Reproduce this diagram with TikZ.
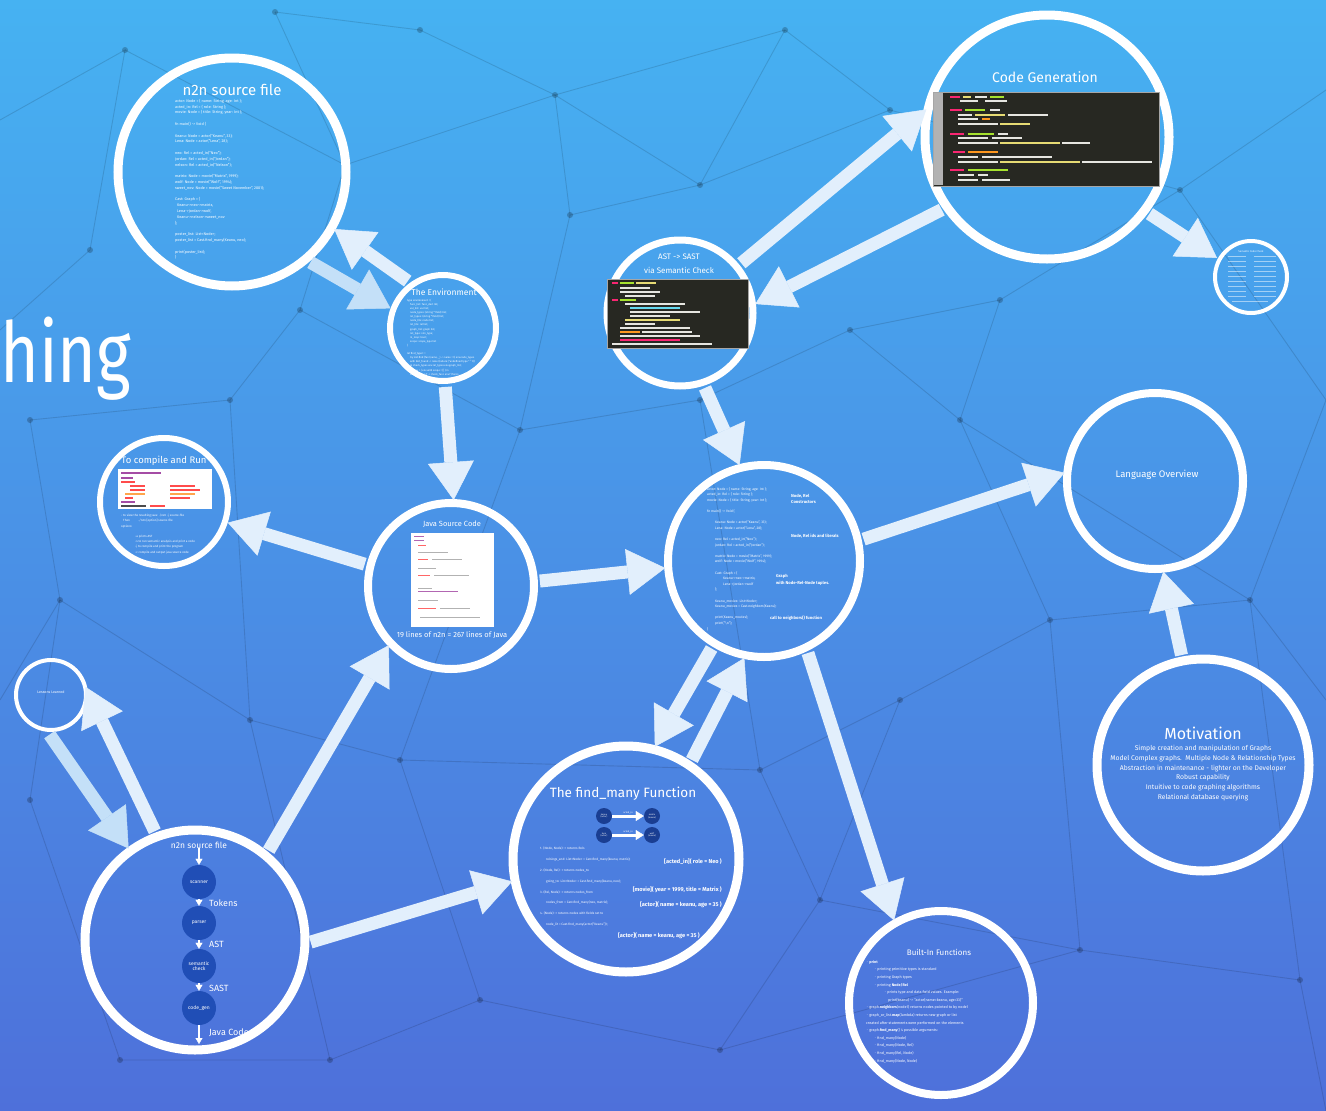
\documentclass[tikz,border=0pt]{standalone}
\usepackage{fontspec}
\setmainfont{Fira Sans}
\usetikzlibrary{arrows.meta}
\definecolor{bgtop}{RGB}{70,178,242}
\definecolor{bgmid}{RGB}{72,148,232}
\definecolor{bgbot}{RGB}{78,112,218}
\definecolor{navy}{RGB}{32,78,182}
\definecolor{arrowc}{RGB}{226,239,252}
\definecolor{arrowfaint}{RGB}{196,224,248}
\definecolor{codebg}{RGB}{39,40,34}
\definecolor{mpink}{RGB}{249,38,114}
\definecolor{mgreen}{RGB}{166,226,46}
\definecolor{morange}{RGB}{253,151,31}
\definecolor{myellow}{RGB}{230,219,116}
\definecolor{mblue}{RGB}{102,217,239}
\definecolor{mwhite}{RGB}{230,230,225}
\newcommand\myfs[2]{\fontsize{#1}{#2}\selectfont}
\begin{document}
\begin{tikzpicture}[x=1pt,y=-1pt,
  ring/.style={circle, draw=white, line width=#1, inner sep=0pt, outer sep=0pt},
  bigarrow/.style={line width=13pt, draw=arrowc, -{Triangle[length=38pt,width=46pt,line width=0.5pt]}, shorten <=6pt, shorten >=3pt},
  smallarrow/.style={line width=1.6pt, draw=white, -{Triangle[length=6pt,width=7pt,line width=0.3pt]}},
  title/.style={text=white, inner sep=0pt},
  code/.style={text=white, inner sep=0pt, align=left, anchor=north west},
  pnode/.style={circle, fill=navy, minimum size=34pt, inner sep=0pt, text=white, font=\myfs{5}{5.5}, align=center},
  fnode/.style={circle, fill=navy!80!black, minimum size=16pt, inner sep=0pt, text=white, font=\myfs{2.2}{2.6}, align=center},
  netline/.style={draw=black, draw opacity=0.13, line width=0.9pt}
]
\useasboundingbox (0,0) rectangle (1326,1111);
\clip (0,0) rectangle (1326,1111);
\shade[top color=bgtop, middle color=bgmid, bottom color=bgbot] (0,0) rectangle (1326,1111);

% background network
\draw[netline] (0,120)--(125,50)--(90,250)--(0,330);
\draw[netline] (125,50)--(345,165)--(555,95)--(700,185)--(890,110)--(1180,190)--(1326,90);
\draw[netline] (275,12)--(345,165)--(300,310)--(230,400)--(30,420);
\draw[netline] (555,95)--(570,215)--(700,185);
\draw[netline] (570,215)--(520,430)--(700,400)--(850,330)--(1000,300)--(1180,190);
\draw[netline] (300,310)--(520,430)--(400,760)--(250,720)--(60,600)--(30,420);
\draw[netline] (700,400)--(760,770)--(400,760);
\draw[netline] (850,330)--(960,420)--(1050,620)--(900,700)--(760,770);
\draw[netline] (1000,300)--(960,420)--(1250,600)--(1326,400);
\draw[netline] (1050,620)--(1250,600)--(1326,700);
\draw[netline] (900,700)--(820,900)--(720,1050)--(480,1000)--(330,1060)--(120,1060)--(30,800)--(60,600);
\draw[netline] (480,1000)--(400,760);
\draw[netline] (820,900)--(1080,950)--(1300,980)--(1326,1111);
\draw[netline] (1080,950)--(1050,620);
\draw[netline] (250,720)--(330,1060);
\draw[netline] (1180,190)--(1326,400);
\draw[netline] (785,30)--(700,185);
\draw[netline] (555,95)--(785,30)--(890,110);
\draw[netline] (0,700)--(60,600);
\draw[netline] (230,400)--(250,720);
\draw[netline] (720,1050)--(1080,950);
\draw[netline] (760,770)--(820,900);
\draw[netline] (1300,980)--(1250,600);
\draw[netline] (275,12)--(420,30)--(555,95);
\foreach \p in {(125,50),(345,165),(555,95),(700,185),(890,110),(1180,190),(275,12),(300,310),(230,400),(30,420),(570,215),(520,430),(700,400),(850,330),(1000,300),(400,760),(250,720),(60,600),(760,770),(960,420),(1050,620),(900,700),(1250,600),(820,900),(720,1050),(480,1000),(330,1060),(120,1060),(30,800),(1080,950),(1300,980),(90,250),(785,30),(420,30)}
  \fill[black, opacity=0.22] \p circle (3pt);

% big partial title
\node[title, anchor=base west, font=\myfs{84}{84}, xscale=0.79, transform shape] (bigtitle) at (0,382) {hing};

% circles
\node[ring=9pt, minimum size=228pt] (top) at (232,172) {};
\node[ring=6pt, minimum size=106pt] (env) at (443,328) {};
\node[ring=9pt, minimum size=244pt] (codegen) at (1047,137) {};
\node[ring=4pt, minimum size=72pt] (sem) at (1251,277) {};
\node[ring=7pt, minimum size=146pt] (ast) at (680,313) {};
\node[ring=6pt, minimum size=128pt] (compile) at (164,502) {};
\node[ring=8pt, minimum size=166pt] (java) at (451,586) {};
\node[ring=8pt, minimum size=192pt] (core) at (764,561) {};
\node[ring=8pt, minimum size=176pt] (lang) at (1155,481) {};
\node[ring=9pt, minimum size=212pt] (motiv) at (1203,765) {};
\node[ring=4pt, minimum size=70pt] (lessons) at (51,695) {};
\node[ring=9pt, minimum size=220pt] (pipe) at (195,940) {};
\node[ring=9pt, minimum size=226pt] (find) at (626,859) {};
\node[ring=8pt, minimum size=184pt] (builtin) at (941,1003) {};

% connectors
\draw[bigarrow] (env.125) -- (top.-29);
\draw[bigarrow, draw=arrowfaint] (top.-50) -- (env.160);
\draw[bigarrow] (env.-88) -- (java.88);
\draw[bigarrow] (java.166) -- (compile.-18);
\draw[bigarrow] (pipe.50) -- (java.-137);
\draw[bigarrow] (pipe.-2) -- (find.-169);
\draw[bigarrow] (java.3) -- (core.-176);
\draw[bigarrow] (ast.-72) -- (core.104);
\draw[bigarrow] (ast.39) -- (codegen.166);
\draw[bigarrow] (codegen.215) -- (ast.6);
\draw[bigarrow] (codegen.-37) -- (sem.151);
\draw[bigarrow] (core.12) -- (lang.174);
\draw[bigarrow] (motiv.101) -- (lang.-85);
\draw[bigarrow] (core.-64) -- (builtin.120);
\draw[bigarrow] (core.-121) -- (find.76);
\draw[bigarrow] (find.56) -- (core.-101);
\draw[bigarrow, draw=arrowfaint] (lessons.-98) -- (pipe.126);
\draw[bigarrow] (pipe.110) -- (lessons.18);

% ---- n2n source file (top)
\node[title, font=\myfs{15}{15}] (toptitle) at (232,90) {n2n source file};
\node[code, font=\myfs{3.8}{5.8}] (topcode) at (175,99) {
actor: Node = \{ name: String, age: Int \};\\
acted\_in: Rel = \{ role: String \};\\
movie: Node = \{ title: String, year: Int \};\\ ~\\
fn main() -> Void \{\\ ~\\
Keanu: Node = actor("Keanu", 33);\\
Lena: Node = actor("Lena", 28);\\ ~\\
neo: Rel = acted\_in("Neo");\\
jordan: Rel = acted\_in("Jordan");\\
nelson: Rel = acted\_in("Nelson");\\ ~\\
matrix: Node = movie("Matrix", 1999);\\
wolf: Node = movie("Wolf", 1994);\\
sweet\_nov: Node = movie("Sweet November", 2001);\\ ~\\
Cast: Graph = \{\\
\hspace{2pt}Keanu->neo->matrix,\\
\hspace{2pt}Lena->jordan->wolf,\\
\hspace{2pt}Keanu->nelson->sweet\_nov\\
\};\\ ~\\
poster\_list: List<Node>;\\
poster\_list = Cast.find\_many(Keanu, neo);\\ ~\\
print(poster\_list);\\
\}};

% ---- The Environment
\node[title, font=\myfs{8.5}{8.5}] (envtitle) at (444,292) {The Environment};
\node[code, font=\myfs{2.6}{4.1}] (envcode) at (407,299) {
type environment = \{\\
\hspace{3pt}func\_list: func\_decl list;\\
\hspace{3pt}var\_list: var list;\\
\hspace{3pt}node\_types: (string * field) list;\\
\hspace{3pt}rel\_types: (string * field) list;\\
\hspace{3pt}node\_lits: node list;\\
\hspace{3pt}rel\_lits: rel list;\\
\hspace{3pt}graph\_list: graph list;\\
\hspace{3pt}ret\_type: n2n\_type;\\
\hspace{3pt}in\_loop: bool;\\
\hspace{3pt}scope: scope\_type list\\
\}\\ ~\\
let find\_type t =\\
\hspace{3pt}try List.find (fun (name, \_) -> name = t) env.node\_types\\
\hspace{3pt}with Not\_found -> raise (Failure ("undefined type " \^{} t))\\
\hspace{3pt}in check\_types env.rel\_types env.graph\_list;\\
\hspace{3pt}let env = \{ env with scope = [] \} in\\
\hspace{3pt}List.map (fun f -> check\_func env f) funcs};

% ---- Code Generation
\node[title, font=\myfs{14}{14}] (cgtitle) at (1045,77) {Code Generation};
\filldraw[fill=codebg, draw=gray!70, line width=0.8pt] (933,92) rectangle (1159,186);
\fill[gray!60] (934,93) rectangle (943,185);
\foreach \y/\x/\l/\c in {96/950/10/mpink,96/963/8/myellow,96/975/12/mwhite,96/990/14/mgreen,100/960/18/mwhite,100/985/22/mwhite,
  109/950/12/mpink,109/965/20/mgreen,109/990/10/mwhite,114/958/14/mwhite,114/975/30/myellow,114/1008/40/mwhite,118/958/20/mwhite,118/982/8/morange,123/958/40/mwhite,123/1000/30/myellow,
  133/950/14/mpink,133/968/26/mgreen,133/998/10/mwhite,137/958/30/mwhite,137/992/30/mwhite,142/958/40/mwhite,142/1000/60/myellow,142/1062/28/mwhite,
  151/953/12/mpink,151/968/30/morange,156/958/20/mwhite,156/982/70/mwhite,161/958/40/mwhite,161/1000/80/myellow,161/1082/70/mwhite,
  169/950/14/mpink,169/968/40/mgreen,174/958/16/mwhite,174/978/10/mwhite,179/958/20/mwhite,179/982/28/mwhite}
  \fill[\c] (\x,\y) rectangle ++(\l,1.8);

% ---- small circle right
\node[title, font=\myfs{2.6}{3}] (semtitle) at (1251,251) {Semantic Code Check};
\foreach \y in {256,261,266,271,276,281,286,291,296}{
  \fill[white, opacity=0.5] (1228,\y) rectangle ++(18,1);
  \fill[white, opacity=0.5] (1254,\y) rectangle ++(22,1);}
\fill[white, opacity=0.5] (1232,301) rectangle ++(36,1);

% ---- AST -> SAST
\node[title, font=\myfs{8}{8}] (asttitle) at (679,257) {AST -> SAST};
\node[title, font=\myfs{8}{8}] (astsub) at (679,270) {via Semantic Check};
\filldraw[fill=codebg, draw=gray!70, line width=0.8pt] (607,279) rectangle (748,348);
\foreach \y/\x/\l/\c in {282/612/6/mpink,282/620/14/mgreen,282/636/20/myellow,287/620/30/mwhite,291/620/40/mwhite,295/625/30/mwhite,
  299/612/6/mpink,299/620/16/mgreen,303/625/60/mwhite,307/630/50/mblue,311/630/70/mwhite,315/630/40/mwhite,319/625/55/myellow,
  323/625/30/mwhite,327/620/70/mwhite,331/620/20/morange,331/642/50/mwhite,335/620/80/mwhite,339/620/60/mpink,343/612/100/mwhite}
  \fill[\c] (\x,\y) rectangle ++(\l,1.6);

% ---- To compile and Run
\node[title, font=\myfs{9.5}{9.5}] (comptitle) at (164,461) {To compile and Run};
\fill[white] (118,469) rectangle (212,509);
\foreach \y/\x/\l/\c in {472/121/40/violet,477/121/12/violet,481/121/14/red,485/130/15/red,485/170/25/red,489/130/15/red,489/170/30/red,493/125/20/orange,493/170/25/orange,497/125/8/red,497/170/20/red,501/121/14/violet,505/121/25/black,505/150/15/red}
  \fill[\c, opacity=0.7] (\x,\y) rectangle ++(\l,1.5);
\node[code, font=\myfs{3}{5.2}] (compcode) at (121,514) {
- to view the resulting Java: ./n2n -j source-file\\
\hspace{2pt}Then \hspace{8pt}./n2n [option] source-file\\
options:\\ ~\\
\hspace{14pt}-a prints AST\\
\hspace{14pt}-s to run semantic analysis and print a code\\
\hspace{14pt}-j to compile and print the program\\
\hspace{14pt}-c compile and output java source code};

% ---- Java Source Code
\node[title, font=\myfs{7.5}{7.5}] (javatitle) at (452,524) {Java Source Code};
\fill[white] (411,533) rectangle (494,627);
\foreach \y/\x/\l/\c in {536/414/10/violet,540/414/10/violet,545/418/8/red,552/418/30/gray,559/418/10/red,559/432/30/gray,568/418/18/gray,575/418/12/red,575/434/35/gray,588/418/14/gray,591/418/40/violet,600/418/20/gray,608/418/18/red,608/440/30/gray,617/420/60/gray}
  \fill[\c, opacity=0.6] (\x,\y) rectangle ++(\l,1.4);
\node[title, font=\myfs{7.5}{7.5}] (javacap) at (452,635) {19 lines of n2n = 267 lines of Java};

% ---- central code circle
\node[code, font=\myfs{3.4}{5.6}] (corecode) at (707,487) {
actor: Node = \{ name: String, age: Int \};\\
acted\_in: Rel = \{ role: String \};\\
movie: Node = \{ title: String, year: Int \};\\ ~\\
fn main() -> Void \{\\ ~\\
\hspace{8pt}Keanu: Node = actor("Keanu", 33);\\
\hspace{8pt}Lena: Node = actor("Lena", 28);\\ ~\\
\hspace{8pt}neo: Rel = acted\_in("Neo");\\
\hspace{8pt}jordan: Rel = acted\_in("Jordan");\\ ~\\
\hspace{8pt}matrix: Node = movie("Matrix", 1999);\\
\hspace{8pt}wolf: Node = movie("Wolf", 1994);\\ ~\\
\hspace{8pt}Cast: Graph = \{\\
\hspace{16pt}Keanu->neo->matrix,\\
\hspace{16pt}Lena->jordan->wolf\\
\hspace{8pt}\};\\ ~\\
\hspace{8pt}Keanu\_movies: List<Node>;\\
\hspace{8pt}Keanu\_movies = Cast.neighbors(Keanu);\\ ~\\
\hspace{8pt}print(Keanu\_movies);\\
\hspace{8pt}print("\textbackslash n");\\
\}};
\node[code, font=\bfseries\myfs{4.2}{6.5}] (lbl1) at (791,494) {Node, Rel\\Constructors};
\node[code, font=\bfseries\myfs{4.2}{6.5}] (lbl2) at (791,534) {Node, Rel ids and literals};
\node[code, font=\bfseries\myfs{4.2}{7}] (lbl3) at (776,574) {Graph\\with Node-Rel-Node tuples.};
\node[code, font=\bfseries\myfs{4.2}{6.5}] (lbl4) at (770,616) {call to neighbors() function};

% ---- Language Overview
\node[title, font=\myfs{9.5}{9.5}] (langtitle) at (1157,475) {Language Overview};

% ---- Motivation
\node[title, font=\myfs{16}{16}] (motivtitle) at (1203,733) {Motivation};
\node[title, font=\myfs{6.8}{9.8}, align=center, anchor=north] (motivtext) at (1203,745) {
Simple creation and manipulation of Graphs\\
Model Complex graphs.\ \ Multiple Node \& Relationship Types\\
Abstraction in maintenance - lighter on the Developer\\
Robust capability\\
Intuitive to code graphing algorithms\\
Relational database querying};

% ---- Built-In Functions
\node[title, font=\myfs{8}{8}] (bititle) at (939,952) {Built-In Functions};
\node[code, font=\myfs{3.7}{7.6}] (bitext) at (866,960) {
$\cdot$ \textbf{print}\\
\hspace{8pt}$\cdot$ printing primitive types is standard\\
\hspace{8pt}$\cdot$ printing Graph types\\
\hspace{8pt}$\cdot$ printing \textbf{Node/Rel}\\
\hspace{18pt}$\cdot$ prints type and data field values. Example:\\
\hspace{22pt}print(keanu) -> "actor\{name=keanu, age=33\}"\\
$\cdot$ graph.\textbf{neighbors}(node1) returns nodes pointed to by node1\\
$\cdot$ graph\_or\_list.\textbf{map}(lambda) returns new graph or list\\
created after statements were performed on the elements\\
$\cdot$ graph.\textbf{find\_many}() 4 possible arguments:\\
\hspace{8pt}$\cdot$ find\_many(Node)\\
\hspace{8pt}$\cdot$ find\_many(Node, Rel)\\
\hspace{8pt}$\cdot$ find\_many(Rel, Node)\\
\hspace{8pt}$\cdot$ find\_many(Node, Node)};

% ---- find_many
\node[title, font=\myfs{13.5}{13.5}] (findtitle) at (623,794) {The find\_many Function};
\node[fnode] (f1) at (604,816) {keanu\\(actor)};
\node[fnode] (f2) at (652,816) {matrix\\(movie)};
\node[fnode] (f3) at (604,835) {lena\\(actor)};
\node[fnode] (f4) at (652,835) {wolf\\(movie)};
\draw[line width=3pt, white, -{Triangle[length=8pt,width=10pt,line width=0.3pt]}] (f1) -- (f2) node[midway, above=0.5pt, font=\myfs{2.4}{2.6}, text=white, inner sep=0.5pt] {acted\_in};
\draw[line width=3pt, white, -{Triangle[length=8pt,width=10pt,line width=0.3pt]}] (f3) -- (f4) node[midway, above=0.5pt, font=\myfs{2.4}{2.6}, text=white, inner sep=0.5pt] {acted\_in};
\node[code, font=\myfs{3.2}{10.8}] (findcode) at (540,847) {
1. (Node, Node) -> returns Rels\\
\hspace{6pt}relsings\_and: List<Node> = Cast.find\_many(keanu, matrix);\\
2. (Node, Rel) -> returns nodes\_to\\
\hspace{6pt}going\_to: List<Node> = Cast.find\_many(keanu, neo);\\
3. (Rel, Node) -> returns nodes\_from\\
\hspace{6pt}nodes\_from = Cast.find\_many(neo, matrix);\\
4. (Node) -> returns nodes with fields set to\\
\hspace{6pt}node\_lit = Cast.find\_many(actor("Keanu"));};
\node[title, font=\bfseries\myfs{5.6}{5.6}, anchor=east] (fr1) at (722,862) {[acted\_in]( role = Neo )};
\node[title, font=\bfseries\myfs{5.6}{5.6}, anchor=east] (fr2) at (722,890) {[movie]( year = 1999, title = Matrix )};
\node[title, font=\bfseries\myfs{5.6}{5.6}, anchor=east] (fr3) at (722,905) {[actor]( name = keanu, age = 35 )};
\node[title, font=\bfseries\myfs{5.6}{5.6}, anchor=east] (fr4) at (700,936) {[actor]( name = keanu, age = 35 )};

% ---- compiler pipeline
\node[title, font=\myfs{8.5}{8.5}] (ptitle) at (199,845) {n2n source file};
\node[pnode] (sc) at (199,882) {scanner};
\node[pnode] (pa) at (199,923) {parser};
\node[pnode] (se) at (199,966) {semantic\\check};
\node[pnode] (cg) at (199,1008) {code\_gen};
\coordinate (pend) at (199,1044);
\draw[smallarrow] (ptitle) -- (sc);
\draw[smallarrow] (sc) -- (pa);
\draw[smallarrow] (pa) -- (se);
\draw[smallarrow] (se) -- (cg);
\draw[smallarrow] (cg) -- (pend);
\node[title, font=\myfs{9}{9}, anchor=west] (ltok) at (209,903) {Tokens};
\node[title, font=\myfs{9}{9}, anchor=west] (last) at (209,944) {AST};
\node[title, font=\myfs{9}{9}, anchor=west] (lsast) at (209,988) {SAST};
\node[title, font=\myfs{9}{9}, anchor=west] (ljava) at (209,1033) {Java Code};

% ---- small circle left
\node[title, font=\myfs{3.6}{3.6}] (lessonstitle) at (51,692) {Lessons Learned};
\end{tikzpicture}
\end{document}
